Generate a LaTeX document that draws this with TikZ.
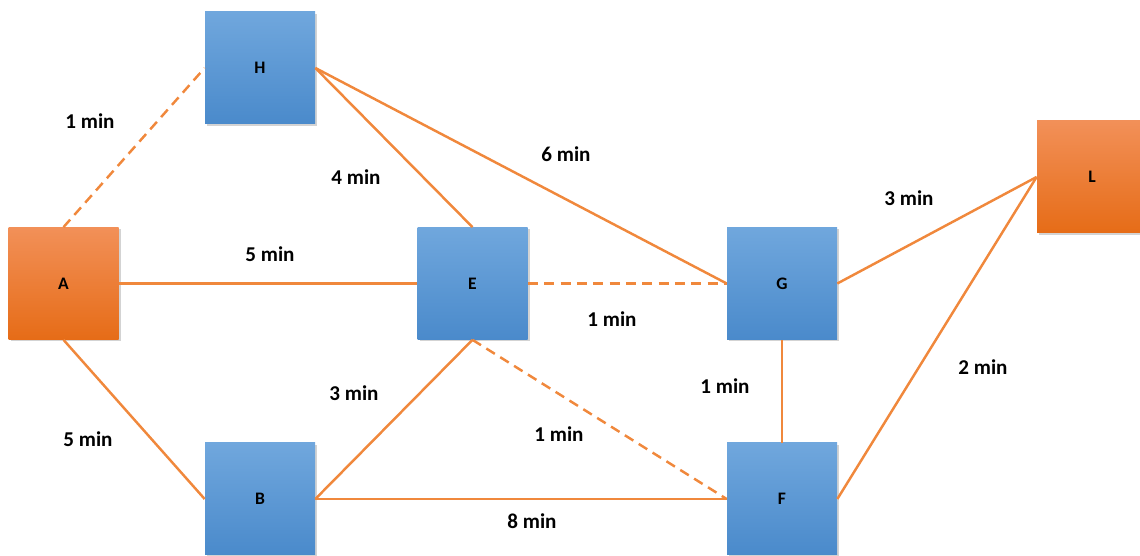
\documentclass[tikz,border=0pt]{standalone}
\usepackage{fontspec}
\setmainfont{Carlito}
\usetikzlibrary{shadows}
\definecolor{boxblue}{HTML}{4A8ACB}
\definecolor{boxbluetop}{HTML}{70A7DD}
\definecolor{boxorange}{HTML}{E66C17}
\definecolor{boxorangetop}{HTML}{F29058}
\definecolor{linkorange}{HTML}{F0883C}
\begin{document}
\begin{tikzpicture}[
    place/.style = {minimum width=2.2cm, minimum height=2.24cm, inner sep=0pt,
        font=\bfseries\fontsize{10}{12}\selectfont,
        drop shadow={shadow xshift=0.04cm, shadow yshift=-0.04cm, opacity=0.35}},
    stop/.style = {place, top color=boxbluetop, bottom color=boxblue},
    terminal/.style = {place, top color=boxorangetop, bottom color=boxorange},
    link/.style = {draw=linkorange, line width=1.4pt},
    shortcut/.style = {link, dash pattern=on 5.7pt off 3.6pt},
    cost/.style = {font=\bfseries\fontsize{12}{14}\selectfont}
]
    \useasboundingbox (0, 0) rectangle (22.8, 11.12);
    % places
    \node [terminal] (A) at (1.27, 5.45) {A};
    \node [stop] (H) at (5.2, 9.76) {H};
    \node [stop] (E) at (9.45, 5.45) {E};
    \node [stop] (G) at (15.64, 5.45) {G};
    \node [terminal] (L) at (21.84, 7.58) {L};
    \node [stop] (B) at (5.2, 1.14) {B};
    \node [stop] (F) at (15.64, 1.14) {F};
    % links
    \draw [shortcut] (A.north) -- (H.west);
    \draw [link] (H.east) -- (E.north);
    \draw [link] (H.east) -- (G.west);
    \draw [link] (A.east) -- (E.west);
    \draw [shortcut] (E.east) -- (G.west);
    \draw [link] (A.south) -- (B.west);
    \draw [link] (B.east) -- (E.south);
    \draw [shortcut] (E.south) -- (F.west);
    \draw [link] (B.east) -- (F.west);
    \draw [link] (G.south) -- (F.north);
    \draw [link] (G.east) -- (L.west);
    \draw [link] (F.east) -- (L.west);
    % times
    \node [cost] (tAH) at (1.8, 8.7) {1 min};
    \node [cost] (tHE) at (7.12, 7.58) {4 min};
    \node [cost] (tHG) at (11.32, 8.04) {6 min};
    \node [cost] (tAE) at (5.4, 6.04) {5 min};
    \node [cost] (tEG) at (12.24, 4.74) {1 min};
    \node [cost] (tGL) at (18.18, 7.16) {3 min};
    \node [cost] (tFL) at (19.66, 3.78) {2 min};
    \node [cost] (tBE) at (7.08, 3.26) {3 min};
    \node [cost] (tGF) at (14.5, 3.4) {1 min};
    \node [cost] (tAB) at (1.76, 2.34) {5 min};
    \node [cost] (tEF) at (11.18, 2.44) {1 min};
    \node [cost] (tBF) at (10.64, 0.7) {8 min};
\end{tikzpicture}
\end{document}
